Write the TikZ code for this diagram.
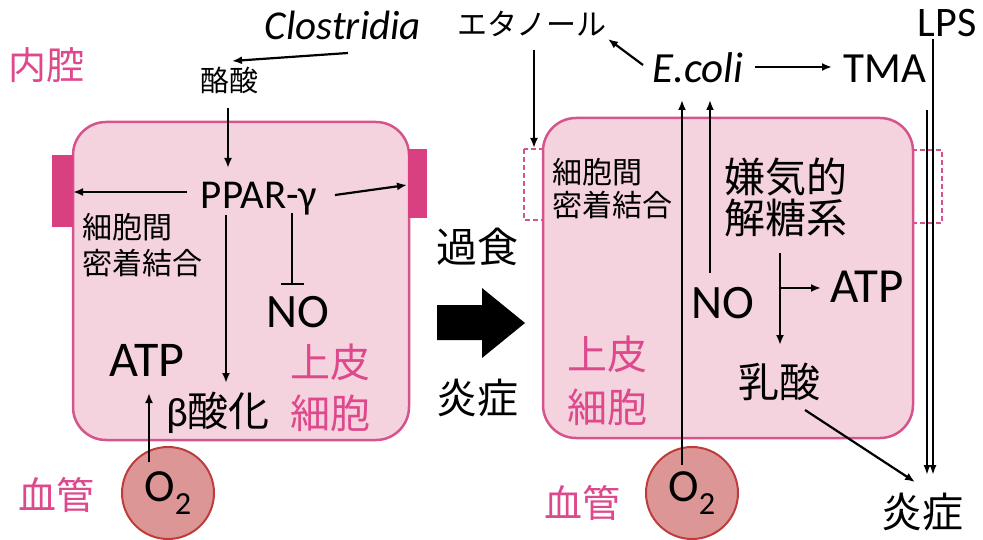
\documentclass[tikz,border=0pt]{standalone}
\usepackage{fontspec}
\setmainfont{Carlito}
\newfontfamily\jp{Noto Sans CJK JP}
\usetikzlibrary{arrows.meta}
\definecolor{cellfill}{RGB}{245,211,222}
\definecolor{celledge}{RGB}{214,84,140}
\definecolor{pinktxt}{RGB}{222,72,140}
\definecolor{tjfill}{RGB}{216,64,128}
\definecolor{o2fill}{RGB}{221,150,150}
\definecolor{o2edge}{RGB}{190,60,60}
\newcommand\myfs[2]{\fontsize{#1}{#2}\selectfont}
\begin{document}
\begin{tikzpicture}[x=1pt,y=-1pt,
  arr/.style={line width=2.2pt,-{Latex[length=10pt,width=8pt]}},
  thinarr/.style={line width=1.8pt,-{Latex[length=10pt,width=7pt]}},
  inhib/.style={line width=2.2pt,-{Bar[width=23pt,line width=2.2pt]}},
  cell/.style={draw=celledge,fill=cellfill,line width=2.5pt,rounded corners=33pt},
  jbar/.style={fill=tjfill},
  jdash/.style={draw=celledge,line width=2pt,dash pattern=on 5pt off 3pt},
  lat/.style={inner sep=0pt,text=black},
  jpn/.style={inner sep=0pt,text=black},
  pinkt/.style={text=pinktxt},
  o2c/.style={circle,draw=o2edge,fill=o2fill,line width=2pt,minimum size=92pt,inner sep=0pt,font=\myfs{46}{46}}]
\useasboundingbox (0,0) rectangle (983,540);

% cells
\draw[cell] (73,122) rectangle (409,440);
\draw[cell] (543,118) rectangle (913,438);
% tight junctions
\fill[jbar] (52,155) rectangle (73,227);
\fill[jbar] (408,149) rectangle (427,218);
\draw[jdash] (524,149) rectangle (543,220);
\draw[jdash] (913,150) rectangle (942,223);
% big arrow
\fill[black] (437,305) -- (482,305) -- (482,288) -- (525,323) -- (482,358) -- (482,340) -- (437,340) -- cycle;

% O2 circles
\node[o2c] (o2a) at (168,493) {O\textsubscript{2}};
\node[o2c] (o2b) at (692,493) {O\textsubscript{2}};

% left texts
\node[jpn,pinkt,font=\jp\myfs{38}{38}] (naikou) at (47,65) {内腔};
\node[lat,font=\itshape\myfs{41}{41}] (clos) at (343,25) {Clostridia};
\node[jpn,font=\jp\myfs{29}{29}] (rakusan) at (229,80) {酪酸};
\node[lat,font=\myfs{41}{41}] (ppar) at (259,199) {PPAR-γ};
\node[jpn,font=\jp\myfs{30}{36},align=left,anchor=west] (tj1) at (82,245) {細胞間\\密着結合};
\node[lat,font=\myfs{48}{48}] (no1) at (298,312) {NO};
\node[lat,font=\myfs{50}{50}] (atp1) at (147,360) {ATP};
\node[jpn,font=\myfs{41}{41}] (beta) at (218,413) {β{\jp 酸化}};
\node[jpn,pinkt,font=\jp\myfs{40}{51},align=center] (jouhi1) at (330,388) {上皮\\細胞};
\node[jpn,pinkt,font=\jp\myfs{38}{38}] (kekkan1) at (56,495) {血管};

% middle
\node[jpn,font=\jp\myfs{41}{41}] (kashoku) at (477,247) {過食};
\node[jpn,font=\jp\myfs{41}{41}] (enshou1) at (477,398) {炎症};

% right texts
\node[jpn,font=\jp\myfs{30}{30}] (etanol) at (532,24) {エタノール};
\node[lat,font=\itshape\myfs{43}{43}] (ecoli) at (698,68) {E.coli};
\node[lat,font=\myfs{43}{43}] (tma) at (885,69) {TMA};
\node[lat,font=\myfs{42}{42}] (lps) at (947,23) {LPS};
\node[jpn,font=\jp\myfs{30}{33},align=left,anchor=west] (tj2) at (552,189) {細胞間\\密着結合};
\node[jpn,font=\jp\myfs{41}{41},align=center] (kenki) at (786,197) {嫌気的\\解糖系};
\node[lat,font=\myfs{48}{48}] (no2) at (723,303) {NO};
\node[lat,font=\myfs{49}{49}] (atp2) at (867,287) {ATP};
\node[jpn,font=\jp\myfs{41}{41}] (nyusan) at (779,382) {乳酸};
\node[jpn,pinkt,font=\jp\myfs{40}{53},align=center] (jouhi2) at (607,381) {上皮\\細胞};
\node[jpn,pinkt,font=\jp\myfs{38}{38}] (kekkan2) at (582,503) {血管};
\node[jpn,font=\jp\myfs{41}{41}] (enshou2) at (922,512) {炎症};

% connector end points
\coordinate (closS) at (348,53);
\coordinate (rakE) at (232,61);
\coordinate (rakS) at (228,108);
\coordinate (pparN) at (228,168);
\coordinate (pparW) at (187,192);
\coordinate (tjL) at (73,192);
\coordinate (pparE) at (335,195);
\coordinate (tjR) at (407,185);
\coordinate (pparS1) at (226,215);
\coordinate (betaN) at (226,383);
\coordinate (pparS2) at (292,213);
\coordinate (noN) at (292,285);
\coordinate (o2aN) at (149,462);
\coordinate (atpS) at (149,393);
\coordinate (etS) at (534,50);
\coordinate (tj2T) at (534,148);
\coordinate (ecW) at (643,65);
\coordinate (etE) at (608,39);
\coordinate (ecE) at (755,67);
\coordinate (tmaW) at (832,67);
\coordinate (o2bN) at (682,465);
\coordinate (ecS1) at (682,100);
\coordinate (no2N) at (710,273);
\coordinate (ecS2) at (710,100);
\coordinate (glyS) at (780,253);
\coordinate (glyB) at (780,288);
\coordinate (lacN) at (780,345);
\coordinate (atp2W) at (821,288);
\coordinate (lacSE) at (805,410);
\coordinate (ensNW) at (915,482);
\coordinate (lpsS) at (933,39);
\coordinate (ensN2) at (933,475);
\coordinate (tmaS) at (927,110);
\coordinate (ensN1) at (927,475);

% left connectors
\draw[arr] (closS) -- (rakE);
\draw[arr] (rakS) -- (pparN);
\draw[arr] (pparW) -- (tjL);
\draw[arr] (pparE) -- (tjR);
\draw[arr] (pparS1) -- (betaN);
\draw[inhib] (pparS2) -- (noN);
\draw[arr] (o2aN) -- (atpS);

% right connectors
\draw[arr] (etS) -- (tj2T);
\draw[arr] (ecW) -- (etE);
\draw[arr] (ecE) -- (tmaW);
\draw[arr] (o2bN) -- (ecS1);
\draw[arr] (no2N) -- (ecS2);
\draw[arr] (glyS) -- (lacN);
\draw[arr] (glyB) -- (atp2W);
\draw[arr] (lacSE) -- (ensNW);
\draw[thinarr] (lpsS) -- (ensN2);
\draw[thinarr] (tmaS) -- (ensN1);
\end{tikzpicture}
\end{document}
